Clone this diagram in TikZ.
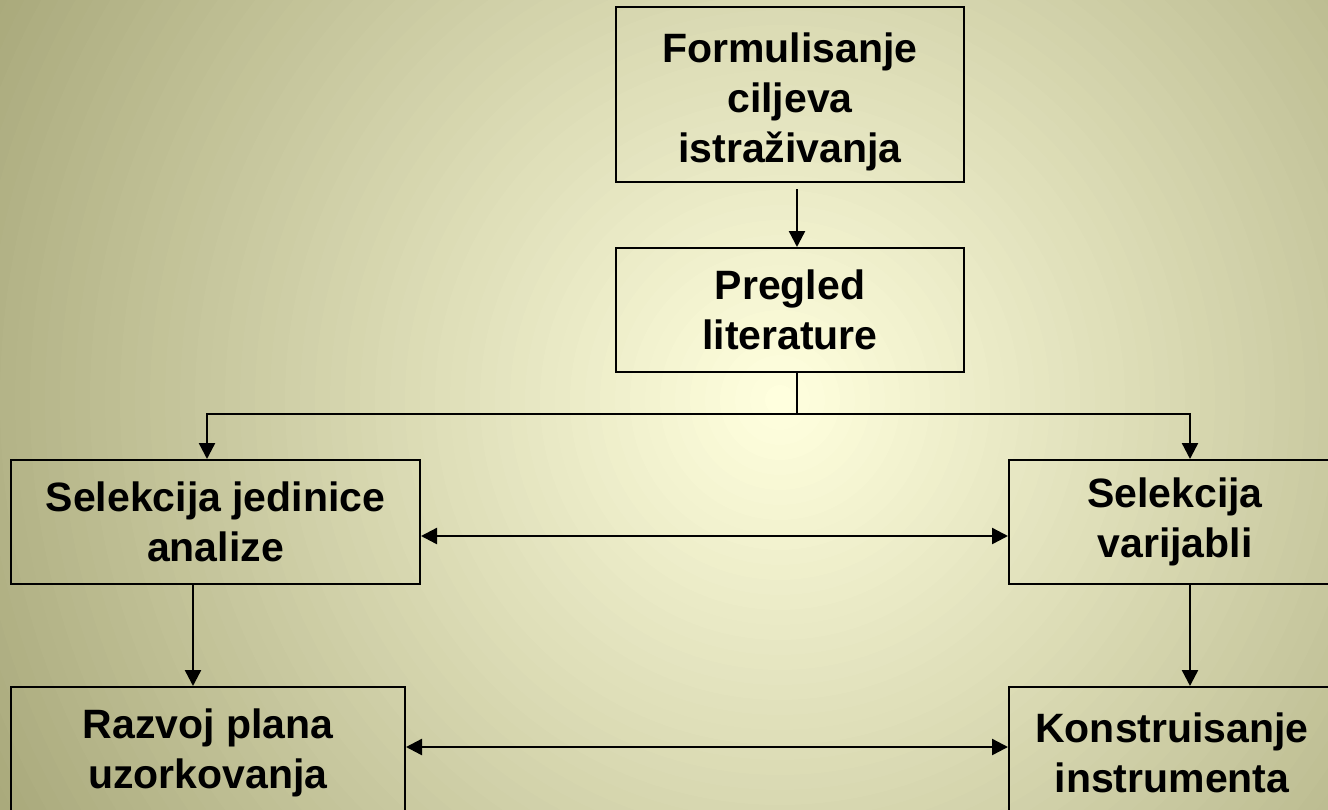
\documentclass[tikz,border=0pt]{standalone}
\usepackage{fontspec}
\setmainfont{Liberation Sans}
\usetikzlibrary{arrows.meta}
\definecolor{bgin}{RGB}{255,255,222}
\definecolor{bgout}{RGB}{168,168,122}
\newfontfamily\boxfont{Liberation Sans}[BoldFont={* Bold}]
\begin{document}
\begin{tikzpicture}[x=1pt,y=-1pt,
  box/.style={draw=black, line width=2pt, inner sep=0pt, align=center,
    font=\boxfont\bfseries\fontsize{41}{50}\selectfont},
  tip/.tip={Triangle[length=16pt,width=16pt]},
  arr/.style={line width=2.4pt, -tip},
  darr/.style={line width=2.4pt, tip-tip},
  link/.style={line width=2.4pt}]
\useasboundingbox (0,0) rectangle (1328,809);
\begin{scope}
\clip (0,0) rectangle (1328,809);
\fill[bgout] (0,0) rectangle (1328,809);
\foreach \i in {0,...,59}{
  \pgfmathsetmacro\rr{900*(1-\i/60)}
  \pgfmathsetmacro\pp{100*\i/59}
  \fill[bgin!\pp!bgout] (780,400) circle[radius=\rr];
}
\node[box, minimum width=348pt, minimum height=175pt] (f1) at (790,94.5) {\rule{0pt}{44pt}Formulisanje\\ciljeva\\istraživanja};
\node[box, minimum width=348pt, minimum height=124pt] (f2) at (790,310) {Pregled\\literature};
\node[box, minimum width=409pt, minimum height=124pt] (s1) at (215.5,522) {Selekcija jedinice\\analize};
\node[box, minimum width=332pt, minimum height=124pt] (s2) at (1175,522) {Selekcija\\varijabli};
\node[box, minimum width=394pt, minimum height=132pt] (r1) at (208,753) {Razvoj plana\\uzorkovanja};
\node[box, minimum width=326pt, minimum height=132pt] (r2) at (1172,753) {Konstruisanje\\instrumenta};
\coordinate (bj) at (797,414);
\draw[arr] ([xshift=7pt,yshift=-6pt]f1.south) -- ([xshift=7pt]f2.north);
\draw[link] ([xshift=7pt]f2.south) -- (bj);
\draw[arr] (bj) -| ([xshift=-8.5pt]s1.north);
\draw[arr] (bj) -| ([xshift=15pt]s2.north);
\draw[darr] ([yshift=-14pt]s1.east) -- ([yshift=-14pt]s2.west);
\draw[darr] ([yshift=6pt]r1.east) -- ([yshift=6pt]r2.west);
\draw[arr] ([xshift=-22.5pt]s1.south) -- ([xshift=-22.5pt]r1.north -| s1.south);
\draw[arr] ([xshift=15pt]s2.south) -- ([xshift=15pt]s2.south |- r2.north);
\end{scope}
\end{tikzpicture}
\end{document}
